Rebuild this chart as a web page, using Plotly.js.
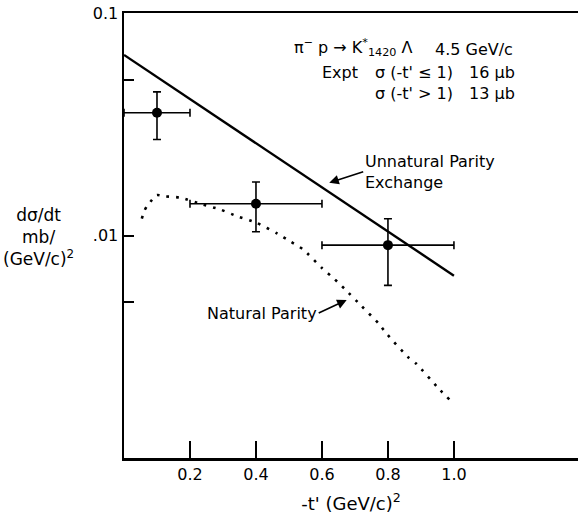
<!DOCTYPE html>
<html>
<head>
<meta charset="utf-8">
<script src="https://cdn.plot.ly/plotly-3.0.1.min.js"></script>
<style>html,body{margin:0;padding:0;background:#fff;}#chart{width:579px;height:515px;}</style>
</head>
<body>
<div id="chart"></div>
<script>
// Experimental points
const expT = [0.1, 0.4, 0.8];
const expXs = [0.0356, 0.0139, 0.00905];
const expTErr = [0.1, 0.2, 0.2];
const expXsErrUp = [0.0086, 0.0035, 0.00285];
const expXsErrDown = [0.0086, 0.0035, 0.00308];

// Unnatural parity exchange (solid line)
const unnatT = [0.0, 1.0];
const unnatXs = [0.0648, 0.0066];

// Natural parity (dotted curve)
const natT = [0.054, 0.061, 0.069, 0.076, 0.099, 0.124, 0.170, 0.239, 0.291, 0.342, 0.402, 0.465, 0.503, 0.543, 0.599, 0.639, 0.670, 0.720, 0.771, 0.798, 0.862, 0.885, 0.958, 0.988];
const natXs = [0.0119, 0.01285, 0.01352, 0.01393, 0.0152, 0.0150, 0.0148, 0.01377, 0.0131, 0.01222, 0.0114, 0.0102, 0.00943, 0.00865, 0.00716, 0.00635, 0.00573, 0.00482, 0.00403, 0.00359, 0.00283, 0.00266, 0.00202, 0.00182];

// Axis ticks
const xTickVals = [0.2, 0.4, 0.6, 0.8, 1.0];
const xTickText = ['0.2', '0.4', '0.6', '0.8', '1.0'];
const yTickVals = [0.01, 0.1];
const yTickText = ['.01', '0.1'];
const yMinorTickVals = [0.005, 0.05];

// Cross-section summary text
const sigmaLabels = ["σ (-t' ≤ 1)", "σ (-t' > 1)"];
const sigmaValues = ['16 μb', '13 μb'];

const FONT = 'DejaVu Sans, Verdana, sans-serif';

const traces = [
  {
    x: natT, y: natXs, type: 'scatter', mode: 'lines',
    line: {color: '#000', width: 2.6, dash: '2.6px,7px', shape: 'spline', smoothing: 0.6},
    hoverinfo: 'skip'
  },
  {
    x: unnatT, y: unnatXs, type: 'scatter', mode: 'lines',
    line: {color: '#000', width: 2.4},
    hoverinfo: 'skip'
  },
  {
    x: expT, y: expXs, type: 'scatter', mode: 'markers',
    marker: {color: '#000', size: 10, symbol: 'circle'},
    error_x: {type: 'data', array: expTErr, color: '#000', thickness: 1.6, width: 4},
    error_y: {type: 'data', array: expXsErrUp, arrayminus: expXsErrDown, symmetric: false, color: '#000', thickness: 1.6, width: 4}
  }
];

const txt = {family: FONT, size: 16, color: '#000'};
const layout = {
  width: 579, height: 515,
  margin: {l: 124, r: 1, t: 13, b: 57},
  paper_bgcolor: '#fff', plot_bgcolor: '#fff',
  showlegend: false,
  font: {family: FONT, color: '#000', size: 16},
  xaxis: {
    range: [0, 1.376], showgrid: false, zeroline: false,
    showline: true, linecolor: '#000', linewidth: 2.5, mirror: true,
    ticks: 'inside', ticklen: 17, tickwidth: 2, tickcolor: '#000',
    tickvals: xTickVals, ticktext: xTickText,
    tickfont: {family: FONT, size: 16, color: '#000'},
    title: {text: "-t' (GeV/c)<sup>2</sup>", font: {family: FONT, size: 18, color: '#000'}, standoff: 15}
  },
  yaxis: {
    type: 'log', range: [-3, -1], showgrid: false, zeroline: false,
    showline: true, linecolor: '#000', linewidth: 2.5, mirror: false,
    ticks: 'inside', ticklen: 10, tickwidth: 2, tickcolor: '#000',
    tickvals: yTickVals, ticktext: yTickText,
    tickfont: {family: FONT, size: 16, color: '#000'},
    minor: {tickvals: yMinorTickVals, ticks: 'inside', ticklen: 10, tickwidth: 2, tickcolor: '#000', showgrid: false}
  },
  annotations: [
    {xref: 'paper', yref: 'paper', x: -0.189, y: 0.497, xanchor: 'center', yanchor: 'middle',
     text: 'dσ/dt<br>mb/<br>(GeV/c)<sup>2</sup>', showarrow: false, align: 'center',
     font: {family: FONT, size: 17, color: '#000'}},
    {xref: 'x', yref: 'y', x: 0.508, y: -1.2157, xanchor: 'left', yanchor: 'bottom', showarrow: false,
     text: 'π<sup>−</sup> p → K<sup>*</sup><sub>1420</sub> Λ', font: txt},
    {xref: 'x', yref: 'y', x: 0.936, y: -1.2157, xanchor: 'left', yanchor: 'bottom', showarrow: false,
     text: '4.5 GeV/c', font: txt},
    {xref: 'x', yref: 'y', x: 0.594, y: -1.2157, xanchor: 'left', yanchor: 'top', showarrow: false,
     text: 'Expt', font: txt},
    {xref: 'x', yref: 'y', x: 0.755, y: -1.2157, xanchor: 'left', yanchor: 'top', showarrow: false,
     align: 'left', text: sigmaLabels.join('<br>'), font: txt},
    {xref: 'x', yref: 'y', x: 1.039, y: -1.2157, xanchor: 'left', yanchor: 'top', showarrow: false,
     align: 'left', text: sigmaValues.join('<br>'), font: txt},
    {xref: 'x', yref: 'y', x: 0.622, y: -1.7627, xanchor: 'left', yanchor: 'middle',
     align: 'left', text: 'Unnatural Parity<br>Exchange', font: txt,
     showarrow: true, ax: 34, ay: -11, arrowhead: 2, arrowsize: 1.2, arrowwidth: 1.6, arrowcolor: '#000', standoff: 0},
    {xref: 'x', yref: 'y', x: 0.675, y: -2.29, xanchor: 'right', yanchor: 'middle',
     text: 'Natural Parity', font: txt,
     showarrow: true, ax: -28, ay: 13, arrowhead: 2, arrowsize: 1.2, arrowwidth: 1.6, arrowcolor: '#000', standoff: 0}
  ]
};

Plotly.newPlot('chart', traces, layout, {displayModeBar: false, staticPlot: true});
</script>
</body>
</html>
